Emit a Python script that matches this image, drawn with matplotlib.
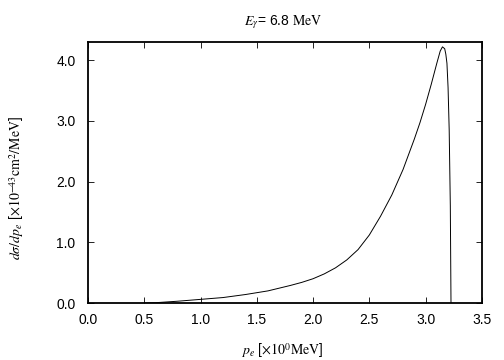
import matplotlib
matplotlib.use('Agg')
import matplotlib.pyplot as plt
from matplotlib.ticker import FormatStrFormatter

# values
pe = [0.5, 0.6, 0.8, 1.0, 1.2, 1.4, 1.6, 1.8, 1.9, 2.0, 2.1, 2.2, 2.3, 2.4,
      2.5, 2.6, 2.7, 2.8, 2.9, 2.95, 3.0, 3.05, 3.1, 3.13, 3.15, 3.17, 3.18,
      3.19, 3.20, 3.21, 3.22, 3.226]
dsig = [0.0, 0.005, 0.03, 0.06, 0.09, 0.14, 0.2, 0.29, 0.34, 0.40, 0.48, 0.58,
        0.71, 0.88, 1.12, 1.43, 1.78, 2.2, 2.7, 2.97, 3.27, 3.6, 3.95, 4.15,
        4.22, 4.19, 4.1, 3.95, 3.55, 2.85, 1.6, 0.0]
xticks = [0.0, 0.5, 1.0, 1.5, 2.0, 2.5, 3.0, 3.5]
yticks = [0.0, 1.0, 2.0, 3.0, 4.0]

plt.rcParams['font.family'] = ['Liberation Sans', 'DejaVu Sans']
plt.rcParams['mathtext.fontset'] = 'stix'

fig = plt.figure(figsize=(5.04, 3.6), dpi=100)
ax = fig.add_axes([0.1746, 0.1583, 0.7814, 0.725])
ax.plot(pe, dsig, color='black', lw=0.7)

ax.set_xlim(0, 3.5)
ax.set_ylim(0, 4.3)
ax.set_xticks(xticks)
ax.set_yticks(yticks)
ax.xaxis.set_major_formatter(FormatStrFormatter('%.1f'))
ax.yaxis.set_major_formatter(FormatStrFormatter('%.1f'))
ax.tick_params(direction='in', top=True, right=True, length=4, width=0.6,
               labelsize=10)
ax.tick_params(axis='y', pad=9)
ax.tick_params(axis='x', pad=7)
for s in ax.spines.values():
    s.set_linewidth(1.3)

fig.text(0.562, 0.939, r'$E_{\gamma}$= 6.8 $\mathrm{MeV}$', ha='center',
         va='center', fontsize=10)
fig.text(0.56, 0.026, r'$p_e$ [$\times10^{0}\mathrm{MeV}$]', ha='center',
         va='center', fontsize=10)
fig.text(0.033, 0.478, r'$d\sigma/dp_e$ [$\times10^{-43}\mathrm{cm}^{2}/\mathrm{MeV}$]',
         ha='center', va='center', rotation=90, fontsize=10)

fig.savefig('out.png', dpi=100)
